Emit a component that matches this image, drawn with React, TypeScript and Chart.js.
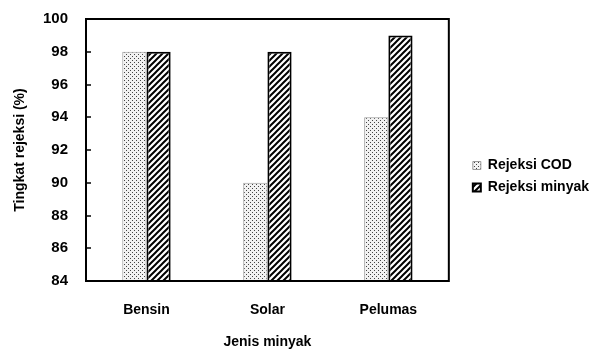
import React, { useEffect, useRef } from "react";
import { Chart, registerables } from "chart.js";

Chart.register(...registerables);

const categories = ["Bensin", "Solar", "Pelumas"];
const rejeksiCOD = [98, 90, 94];
const rejeksiMinyak = [98, 98, 99];
const yTicks = [84, 86, 88, 90, 92, 94, 96, 98, 100];

function dotPattern(): CanvasPattern | string {
  const c = document.createElement("canvas");
  c.width = 4;
  c.height = 4;
  const ctx = c.getContext("2d");
  if (!ctx) return "#ddd";
  ctx.fillStyle = "#f2f2f2";
  ctx.fillRect(0, 0, 4, 4);
  ctx.fillStyle = "#444";
  ctx.fillRect(0, 0, 1, 1);
  ctx.fillRect(2, 2, 1, 1);
  const p = ctx.createPattern(c, "repeat");
  return p || "#ddd";
}

function hatchPattern(): CanvasPattern | string {
  const s = 6;
  const c = document.createElement("canvas");
  c.width = s;
  c.height = s;
  const ctx = c.getContext("2d");
  if (!ctx) return "#000";
  ctx.fillStyle = "#fff";
  ctx.fillRect(0, 0, s, s);
  ctx.strokeStyle = "#000";
  ctx.lineWidth = 2;
  ctx.beginPath();
  ctx.moveTo(0, s);
  ctx.lineTo(s, 0);
  ctx.moveTo(-s / 2, s / 2);
  ctx.lineTo(s / 2, -s / 2);
  ctx.moveTo(s / 2, s + s / 2);
  ctx.lineTo(s + s / 2, s / 2);
  ctx.stroke();
  const p = ctx.createPattern(c, "repeat");
  return p || "#000";
}

const frameAndTicks = {
  id: "frameAndTicks",
  afterLayout(chart: any) {
    const lg = chart.legend;
    if (lg) {
      lg.left += 16;
      lg.right += 16;
    }
  },
  afterDraw(chart: any) {
    const { ctx, chartArea } = chart;
    const y = chart.scales.y;
    ctx.save();
    ctx.strokeStyle = "#000";
    ctx.lineWidth = 2;
    ctx.strokeRect(chartArea.left, chartArea.top, chartArea.right - chartArea.left, chartArea.bottom - chartArea.top);
    ctx.lineWidth = 1.5;
    yTicks.forEach((v) => {
      const py = Math.round(y.getPixelForValue(v));
      ctx.beginPath();
      ctx.moveTo(chartArea.left, py);
      ctx.lineTo(chartArea.left + 5, py);
      ctx.stroke();
    });
    ctx.restore();
  },
};

export default function App() {
  const ref = useRef<HTMLCanvasElement>(null);
  useEffect(() => {
    document.body.style.margin = "0";
    if (!ref.current) return;
    const font = "'Liberation Sans', Arial, sans-serif";
    const chart = new Chart(ref.current, {
      type: "bar",
      data: {
        labels: categories,
        datasets: [
          {
            label: "Rejeksi COD",
            data: rejeksiCOD,
            backgroundColor: dotPattern() as any,
            borderColor: "#9a9a9a",
            borderWidth: 1,
            barPercentage: 1,
            categoryPercentage: 0.4,
          },
          {
            label: "Rejeksi minyak",
            data: rejeksiMinyak,
            backgroundColor: hatchPattern() as any,
            borderColor: "#000",
            borderWidth: 2,
            barPercentage: 1,
            categoryPercentage: 0.4,
          },
        ],
      },
      options: {
        animation: false,
        responsive: false,
        maintainAspectRatio: false,
        layout: { padding: { top: 2, left: 8, right: 12, bottom: 0 } },
        plugins: {
          legend: {
            position: "right",
            labels: {
              boxWidth: 8,
              boxHeight: 8,
              padding: 8,
              color: "#000",
              font: { family: font, size: 14, weight: "bold" },
            },
          },
          tooltip: { enabled: false },
        },
        scales: {
          x: {
            afterFit: (scale: any) => {
              scale.height = 70;
            },
            grid: { display: false, drawTicks: false },
            border: { display: false },
            ticks: { color: "#000", padding: 21, font: { family: font, size: 14, weight: "bold" } },
            title: {
              display: true,
              text: "Jenis minyak",
              color: "#000",
              padding: { top: 0, bottom: 0 },
              font: { family: font, size: 14, weight: "bold" },
            },
          },
          y: {
            min: 84,
            max: 100,
            afterFit: (scale: any) => {
              scale.width = 78;
              scale.paddingTop = 19;
            },
            afterBuildTicks: (axis: any) => {
              axis.ticks = yTicks.map((v) => ({ value: v }));
            },
            grid: { display: false, drawTicks: false },
            border: { display: false },
            ticks: { color: "#000", padding: 18, font: { family: font, size: 15, weight: "bold" } },
            title: {
              display: true,
              text: "Tingkat rejeksi (%)",
              color: "#000",
              padding: { top: 4, bottom: 0 },
              font: { family: font, size: 14, weight: "bold" },
            },
          },
        },
      },
      plugins: [frameAndTicks],
    } as any);
    return () => chart.destroy();
  }, []);
  return (
    <div style={{ width: 595, height: 351, background: "#fff" }}>
      <canvas ref={ref} width={595} height={351} />
    </div>
  );
}
